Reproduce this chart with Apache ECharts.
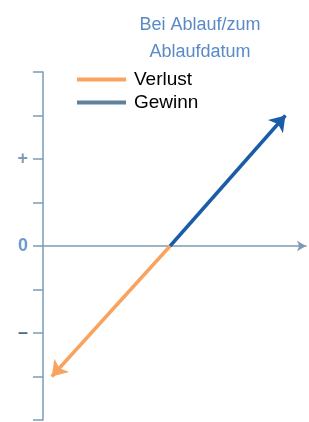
<!DOCTYPE html>
<html>
<head>
<meta charset="utf-8">
<script src="https://cdn.jsdelivr.net/npm/echarts@6/dist/echarts.min.js"></script>
<style>
html,body{margin:0;padding:0;background:#fff;}
#c{width:309px;height:422px;}
</style>
</head>
<body>
<div id="c"></div>
<script>
// ---- data ----
var titleLines = ['Bei Ablauf/zum', 'Ablaufdatum'];
var seriesNames = ['Verlust', 'Gewinn'];
var breakEven = [2.9, 0];
var verlustEnd = [0.2, -3.0];
var gewinnEnd = [5.53, 3.0];
var yTickValues = [-4, -3, -2, -1, 0, 1, 2, 3, 4];
var yTickText = ['', '', '–', '', '0', '', '+', '', ''];

// ---- styles ----
var labelColors = {'+': '#7f9ab3', '0': '#6c9bd2', '–': '#4f6f8c'};
var axisColor = '#7d9ab4';

var chart = echarts.init(document.getElementById('c'), null, {renderer: 'canvas'});
function labelFor(v) {
  var i = yTickValues.indexOf(v);
  return i >= 0 ? yTickText[i] : '';
}
chart.setOption({
  animation: false,
  title: {
    text: titleLines.join('\n'),
    left: 200, top: 12, padding: 0,
    textAlign: 'center',
    textStyle: {color: '#5a8ac6', fontSize: 18, fontWeight: 'normal', lineHeight: 27, fontFamily: 'Liberation Sans'}
  },
  legend: {
    orient: 'vertical', left: 77, top: 70, padding: 0, itemGap: 4,
    icon: 'rect', itemWidth: 49, itemHeight: 4,
    textStyle: {color: '#000', fontSize: 19, fontFamily: 'Liberation Sans', padding: [0, 0, 0, 3]},
    data: [
      {name: seriesNames[0], itemStyle: {color: '#f8a35f', borderWidth: 0}},
      {name: seriesNames[1], itemStyle: {color: '#5f8199', borderWidth: 0}}
    ]
  },
  grid: {left: 43, right: 3, top: 72, bottom: 2},
  xAxis: {
    type: 'value', min: 0, max: 6,
    axisLine: {onZero: true, symbol: ['none', 'arrow'], symbolSize: [8, 9], lineStyle: {color: axisColor, width: 1.5}},
    axisTick: {show: false}, axisLabel: {show: false}, splitLine: {show: false}
  },
  yAxis: {
    type: 'value', min: -4, max: 4, interval: 1,
    axisLine: {show: true, onZero: false, lineStyle: {color: axisColor, width: 1.5}},
    axisTick: {show: true, length: 10, lineStyle: {color: axisColor, width: 1.5}},
    axisLabel: {
      margin: 15, fontSize: 18, fontWeight: 'bold', fontFamily: 'Liberation Sans',
      formatter: function (v) { return labelFor(v); },
      color: function (v) { return labelColors[labelFor(Number(v))] || axisColor; }
    },
    splitLine: {show: false}
  },
  series: [
    {
      name: seriesNames[0], type: 'lines', coordinateSystem: 'cartesian2d',
      symbol: ['none', 'arrow'], symbolSize: 15,
      lineStyle: {color: '#f8a35f', width: 3.5, opacity: 1},
      itemStyle: {color: '#f8a35f'},
      data: [{coords: [breakEven, verlustEnd]}]
    },
    {
      name: seriesNames[1], type: 'lines', coordinateSystem: 'cartesian2d',
      symbol: ['none', 'arrow'], symbolSize: 15,
      lineStyle: {color: '#1b5ca8', width: 3.5, opacity: 1},
      itemStyle: {color: '#1b5ca8'},
      data: [{coords: [breakEven, gewinnEnd]}]
    }
  ]
});
</script>
</body>
</html>
